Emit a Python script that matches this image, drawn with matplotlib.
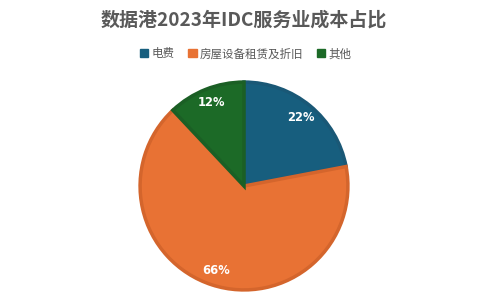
import matplotlib
matplotlib.use("Agg")
import matplotlib.pyplot as plt
from matplotlib.patches import Patch
import numpy as np

plt.rcParams['font.family'] = ['Noto Sans CJK SC', 'DejaVu Sans']

categories = ['电费', '房屋设备租赁及折旧', '其他']
values = [22, 66, 12]
labels = ['22%', '66%', '12%']
colors = ['#175E7E', '#E87234', '#1C6A27']
edges = ['#1A5876', '#D4652C', '#1B5F25']

W, H = 489, 306
fig = plt.figure(figsize=(W/100, H/100), dpi=100)
cx, cy, r = 244, 186, 106
ax = fig.add_axes([(cx-r)/W, (H-cy-r)/H, 2*r/W, 2*r/H])
wedges, _ = ax.pie(values, colors=colors, startangle=90, counterclock=False,
                   radius=1.0, wedgeprops=dict(linewidth=2.5))
for w, e in zip(wedges, edges):
    w.set_edgecolor(e)
ang = 90
for v, lab in zip(values, labels):
    mid = ang - v*3.6/2
    ang -= v*3.6
    x = 0.86*np.cos(np.radians(mid)); y = 0.86*np.sin(np.radians(mid))
    ax.text(x, y, lab, ha='center', va='center', color='white',
            fontsize=8.3, fontweight='bold', family=['DejaVu Sans'])
ax.set_xlim(-1.02, 1.02); ax.set_ylim(-1.02, 1.02)
ax.set_aspect('equal')
ax.axis('off')

fig.text(244/W, 1-20/H, '数据港2023年IDC服务业成本占比', ha='center', va='center',
         fontsize=13.7, fontweight='bold', color='#595959')
handles = [Patch(facecolor=c, edgecolor=c) for c in colors]
fig.legend(handles, categories, loc='center', bbox_to_anchor=(246/W, 1-54/H),
           ncol=3, frameon=False, fontsize=8.3, labelcolor='#595959',
           handlelength=0.7, handleheight=0.7, handletextpad=0.3, columnspacing=1.2)
fig.savefig('out.png', dpi=100)
